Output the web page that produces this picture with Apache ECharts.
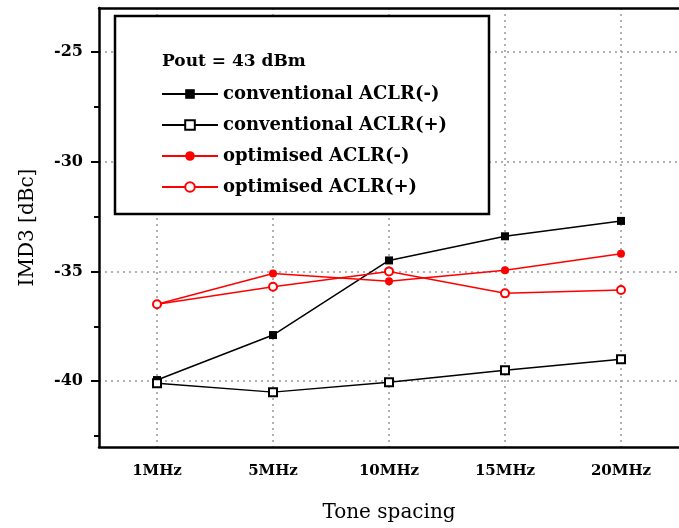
<!DOCTYPE html>
<html>
<head>
<meta charset="utf-8">
<script src="https://cdn.jsdelivr.net/npm/echarts@6/dist/echarts.min.js"></script>
<style>
html, body { margin: 0; padding: 0; background: #fff; }
#chart { width: 679px; height: 528px; }
</style>
</head>
<body>
<div id="chart"></div>
<script>
// tone spacing categories
var categories = ["1MHz", "5MHz", "10MHz", "15MHz", "20MHz"];
// IMD3 [dBc]
var convMinus = [-39.95, -37.9, -34.5, -33.4, -32.7];
var convPlus = [-40.1, -40.5, -40.05, -39.5, -39.0];
var optMinus = [-36.5, -35.1, -35.45, -34.95, -34.2];
var optPlus = [-36.5, -35.7, -35.0, -36.0, -35.85];
// y axis ticks
var yMajor = [-40, -35, -30, -25];
var yMinor = [-42.5, -37.5, -32.5, -27.5];

var serif = "DejaVu Serif";
var chart = echarts.init(document.getElementById("chart"));

var option = {
    backgroundColor: "#fff",
    animation: false,
    textStyle: { fontFamily: serif },
    grid: { left: 99, top: 8, width: 584, height: 441 },
    graphic: [
        {
            type: "rect",
            z: 10,
            shape: { x: 115, y: 16, width: 374, height: 198 },
            style: { fill: "#fff", stroke: "#000", lineWidth: 2.5 }
        },
        {
            type: "text",
            z: 11,
            left: 162,
            top: 53,
            style: { text: "Pout = 43 dBm", fontFamily: serif, fontSize: 17, fontWeight: "bold", fill: "#000" }
        }
    ],
    legend: {
        z: 20,
        orient: "vertical",
        left: 156,
        top: 80,
        itemWidth: 56,
        itemHeight: 12,
        itemGap: 13,
        textStyle: { fontFamily: serif, fontSize: 18, fontWeight: "bold", color: "#000" },
        data: ["conventional ACLR(-)", "conventional ACLR(+)", "optimised ACLR(-)", "optimised ACLR(+)"]
    },
    xAxis: [
        {
            type: "category",
            position: "bottom",
            data: categories,
            boundaryGap: true,
            name: "Tone spacing",
            nameLocation: "middle",
            nameGap: 56,
            nameTextStyle: { fontFamily: serif, fontSize: 20, color: "#000" },
            axisLine: { lineStyle: { color: "#000", width: 2.5 } },
            axisTick: { alignWithLabel: true, length: 7, lineStyle: { color: "#000", width: 2 } },
            axisLabel: { margin: 17, fontFamily: serif, fontSize: 15, fontWeight: "bold", color: "#000" },
            splitLine: { show: true, alignWithLabel: true, lineStyle: { color: "#999", type: [2, 4], width: 1.5 } }
        },
        {
            type: "category",
            position: "bottom",
            data: categories,
            boundaryGap: true,
            axisLine: { show: false },
            axisTick: { length: 4, lineStyle: { color: "#000", width: 2 } },
            axisLabel: { show: false },
            splitLine: { show: false }
        },
        {
            type: "category",
            position: "top",
            data: categories,
            boundaryGap: true,
            axisLine: { lineStyle: { color: "#000", width: 2.5 } },
            axisTick: { inside: true, alignWithLabel: true, length: 5, lineStyle: { color: "#000", width: 1.5 } },
            axisLabel: { show: false },
            splitLine: { show: false }
        }
    ],
    yAxis: [
        {
            type: "value",
            min: -43,
            max: -23,
            name: "IMD3 [dBc]",
            nameLocation: "middle",
            nameRotate: 90,
            nameGap: 61,
            nameTextStyle: { fontFamily: serif, fontSize: 20, color: "#000" },
            axisLine: { show: true, lineStyle: { color: "#000", width: 2.5 } },
            axisTick: { show: true, customValues: yMajor, length: 8, lineStyle: { color: "#000", width: 2 } },
            axisLabel: { customValues: yMajor, margin: 16, fontFamily: serif, fontSize: 16, fontWeight: "bold", color: "#000" },
            splitLine: { show: true, lineStyle: { color: "#999", type: [2, 4], width: 1.5 } }
        },
        {
            type: "value",
            min: -43,
            max: -23,
            position: "left",
            axisLine: { show: false },
            axisTick: { show: true, customValues: yMinor, length: 5, lineStyle: { color: "#000", width: 2 } },
            axisLabel: { show: false },
            splitLine: { show: false }
        }
    ],
    series: [
        {
            name: "conventional ACLR(-)",
            type: "line",
            data: convMinus,
            symbol: "rect",
            symbolSize: 8,
            lineStyle: { color: "#000", width: 1.5 },
            itemStyle: { color: "#000" }
        },
        {
            name: "conventional ACLR(+)",
            type: "line",
            data: convPlus,
            symbol: "emptyRect",
            symbolSize: 8,
            lineStyle: { color: "#000", width: 1.5 },
            itemStyle: { color: "#000", borderWidth: 1.5 }
        },
        {
            name: "optimised ACLR(-)",
            type: "line",
            data: optMinus,
            symbol: "circle",
            symbolSize: 8,
            lineStyle: { color: "#ff0000", width: 1.5 },
            itemStyle: { color: "#ff0000" }
        },
        {
            name: "optimised ACLR(+)",
            type: "line",
            data: optPlus,
            symbol: "emptyCircle",
            symbolSize: 8,
            lineStyle: { color: "#ff0000", width: 1.5 },
            itemStyle: { color: "#ff0000", borderWidth: 1.5 }
        }
    ]
};

chart.setOption(option);
</script>
</body>
</html>
